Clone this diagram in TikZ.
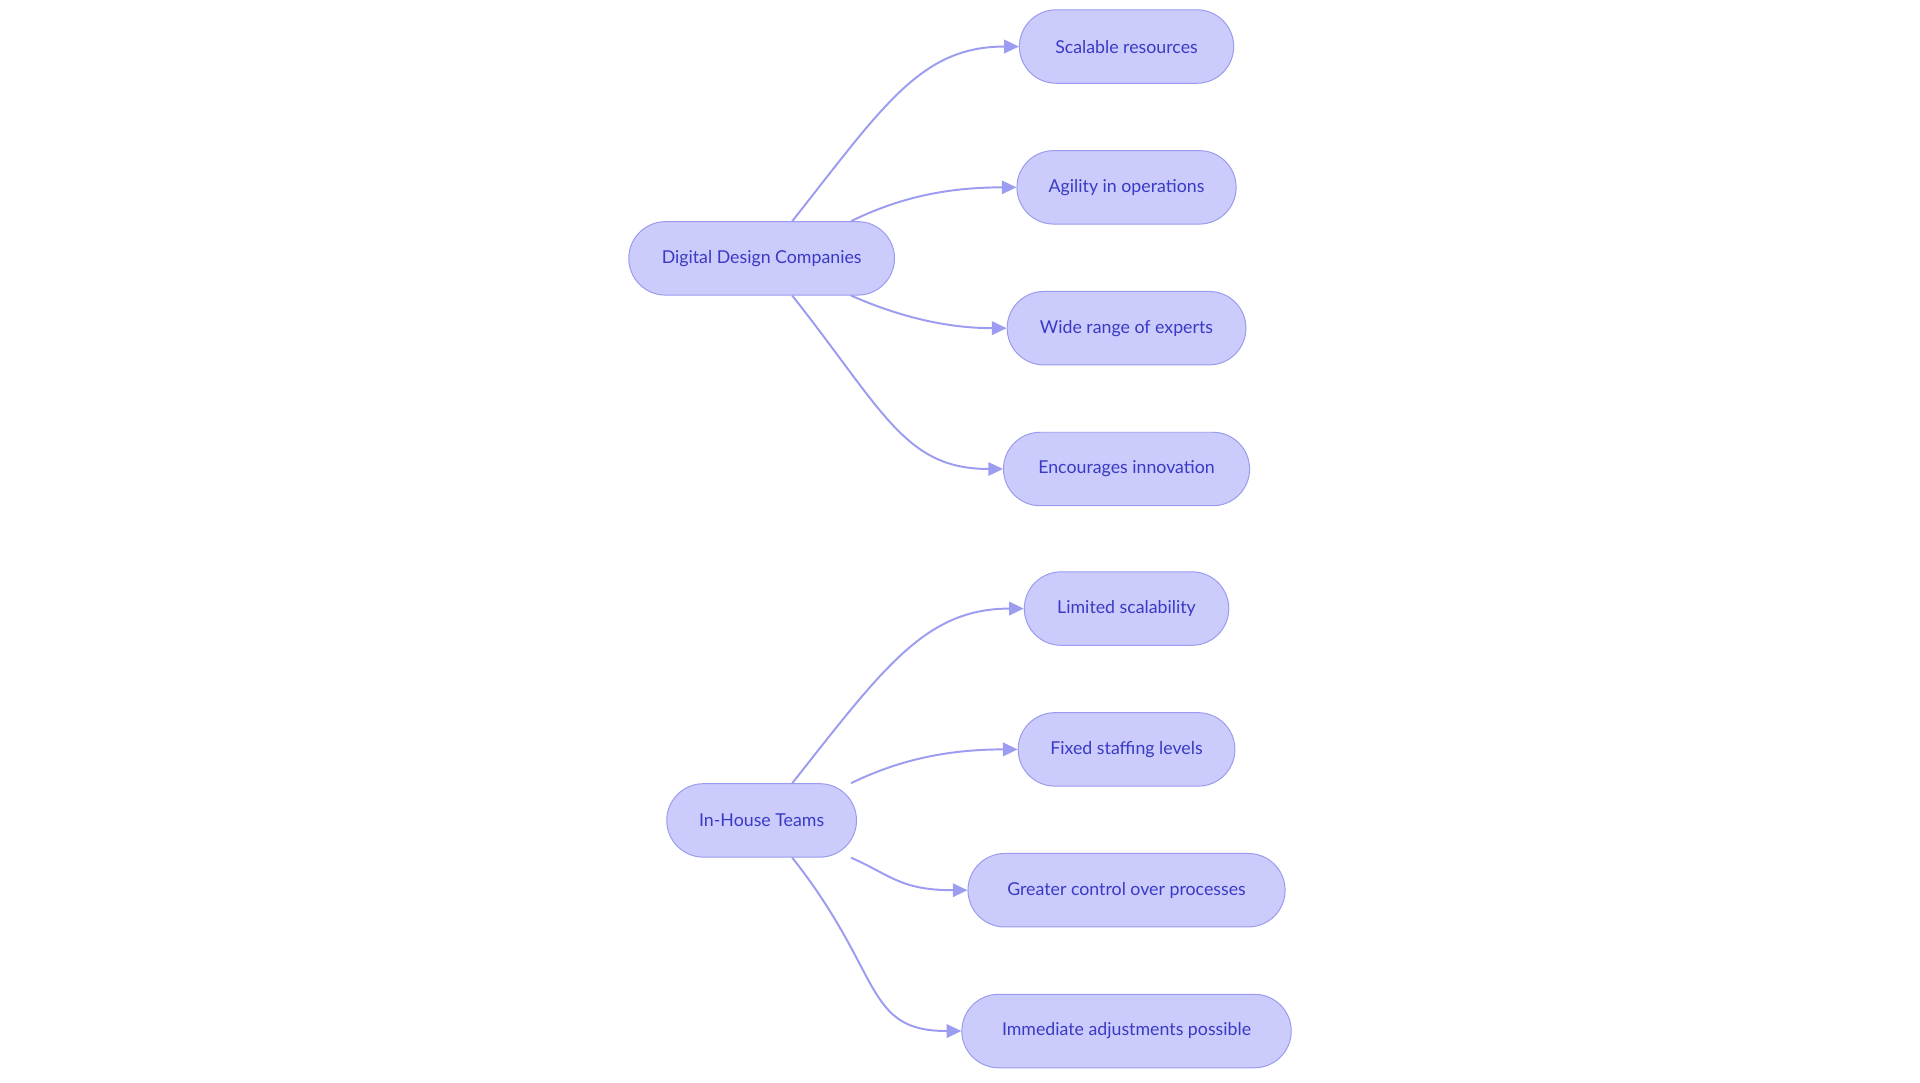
\documentclass[tikz,border=0pt]{standalone}
\usepackage{fontspec}
\setmainfont{Lato}
\usetikzlibrary{arrows.meta,calc}
\definecolor{nfill}{HTML}{CBCBFC}
\definecolor{nline}{HTML}{9A9AEE}
\definecolor{ntext}{HTML}{3A3AC4}
\definecolor{eline}{HTML}{9C9CF0}
\tikzset{
  box/.style={draw=nline, fill=nfill, text=ntext, rounded corners=30pt, minimum height=60pt, inner xsep=10pt, font=\fontsize{14.5pt}{17pt}\selectfont, line width=0.8pt},
  edge/.style={draw=eline, line width=1.6pt, -{Triangle[length=12pt,width=11pt]}}
}
\begin{document}
\begin{tikzpicture}[x=1pt,y=-1pt]
\useasboundingbox (0,0) rectangle (1568,884);
\node[box, minimum width=217pt] (ddc) at (622,211) {Digital Design Companies};
\node[box, minimum width=155pt] (iht) at (622,670) {In-House Teams};
\node[box, minimum width=175pt] (a1) at (920,38) {Scalable resources};
\node[box, minimum width=179pt] (a2) at (920,153) {Agility in operations};
\node[box, minimum width=195pt] (a3) at (920,268) {Wide range of experts};
\node[box, minimum width=201pt] (a4) at (920,383) {Encourages innovation};
\node[box, minimum width=167pt] (b1) at (920,497) {Limited scalability};
\node[box, minimum width=177pt] (b2) at (920,612) {Fixed staffing levels};
\node[box, minimum width=259pt] (b3) at (920,727) {Greater control over processes};
\node[box, minimum width=269pt] (b4) at (920,842) {Immediate adjustments possible};
\foreach \p/\c/\d/\e/\f in {ddc/a1/a2/a3/a4, iht/b1/b2/b3/b4}{
  \draw[edge] ($(\p.north)+(25,0)$) .. controls ($(\p.north)+(100,-95)$) and ($(\c.west)+(-80,0)$) .. (\c.west);
  \draw[edge] ($(\p.north)+(73,0)$) .. controls ($(\p.north)+(110,-18)$) and ($(\d.west)+(-60,0)$) .. (\d.west);
  \draw[edge] ($(\p.south)+(73,0)$) .. controls ($(\p.south)+(105,14)$) and ($(\e.west)+(-55,0)$) .. (\e.west);
  \draw[edge] ($(\p.south)+(25,0)$) .. controls ($(\p.south)+(100,95)$) and ($(\f.west)+(-80,0)$) .. (\f.west);
}
\end{tikzpicture}
\end{document}
